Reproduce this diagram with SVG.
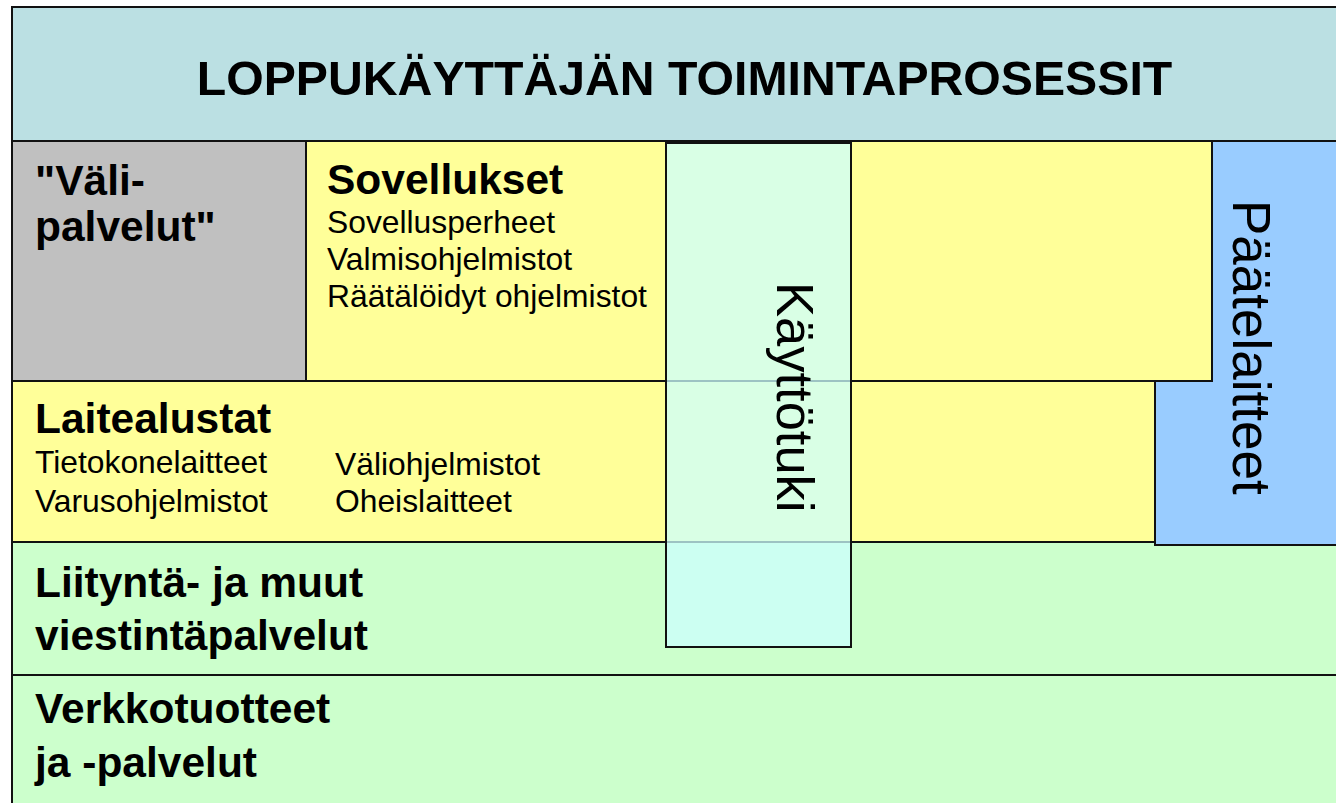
<svg xmlns="http://www.w3.org/2000/svg" width="1336" height="803" viewBox="0 0 1336 803">
<style>
.box{stroke:#111;stroke-width:2}
.t{font-family:"Liberation Sans",Arial,sans-serif;fill:#000}
.b{font-weight:bold;font-size:42.5px}
.r{font-size:31.8px}
</style>
<rect width="1336" height="803" fill="#fff"/>
<g id="title">
<rect class="box" x="12" y="7" width="1340" height="134" fill="#BBE0E3"/>
<text class="t" x="684.5" y="95" font-size="48.2" font-weight="bold" text-anchor="middle">LOPPUKÄYTTÄJÄN TOIMINTAPROSESSIT</text>
</g>
<g id="verkkotuotteet">
<rect class="box" x="12" y="675" width="1340" height="140" fill="#CCFFCC"/>
<text class="t b" x="35" y="723">Verkkotuotteet</text>
<text class="t b" x="35" y="777">ja -palvelut</text>
</g>
<g id="liitynta">
<rect class="box" x="12" y="542" width="1340" height="133" fill="#CCFFCC"/>
<text class="t b" x="35" y="597">Liityntä- ja muut</text>
<text class="t b" x="35" y="650">viestintäpalvelut</text>
</g>
<g id="paatelaitteet">
<rect class="box" x="1155" y="141" width="200" height="404" fill="#99CCFF"/>
<text class="t" font-size="53" transform="translate(1233,200) rotate(90)">Päätelaitteet</text>
</g>
<g id="laitealustat">
<rect class="box" x="12" y="381" width="1143" height="161" fill="#FFFF99"/>
<text class="t b" x="35" y="433">Laitealustat</text>
<text class="t r" x="35" y="473">Tietokonelaitteet</text>
<text class="t r" x="35" y="512">Varusohjelmistot</text>
<text class="t r" x="335" y="475">Väliohjelmistot</text>
<text class="t r" x="335" y="512">Oheislaitteet</text>
</g>
<g id="valipalvelut">
<rect class="box" x="12" y="141" width="294" height="240" fill="#C0C0C0"/>
<text class="t b" x="35" y="195">"Väli-</text>
<text class="t b" x="35" y="241">palvelut"</text>
</g>
<g id="sovellukset">
<rect class="box" x="306" y="141" width="906" height="240" fill="#FFFF99"/>
<text class="t b" x="327" y="194">Sovellukset</text>
<text class="t r" x="327" y="233">Sovellusperheet</text>
<text class="t r" x="327" y="270">Valmisohjelmistot</text>
<text class="t r" x="327" y="307">Räätälöidyt ohjelmistot</text>
</g>
<g id="kayttotuki">
<rect class="box" x="666" y="143" width="185" height="504" fill="#CCFFFF" fill-opacity="0.75"/>
<text class="t" font-size="52.5" transform="translate(777,282) rotate(90)">Käyttötuki</text>
</g>
<g id="connectors"></g>
</svg>
